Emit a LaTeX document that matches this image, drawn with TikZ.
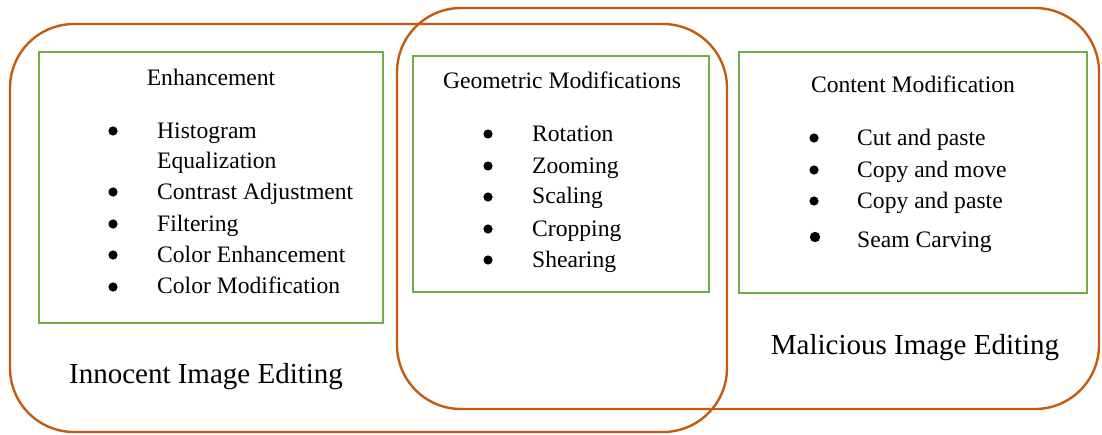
\documentclass[tikz,border=0pt]{standalone}
\usepackage{fontspec}
\setmainfont{Liberation Serif}
\definecolor{oframe}{HTML}{C55A11}
\definecolor{gframe}{HTML}{70AD47}
\begin{document}
\begin{tikzpicture}[x=1pt,y=-1pt,
  outer/.style={draw=oframe,line width=2.4pt,rounded corners=64pt},
  inner/.style={draw=gframe,line width=2pt},
  item/.style={anchor=base west,inner sep=0pt,font=\fontsize{23.6}{28}\selectfont},
  ttl/.style={anchor=base,inner sep=0pt,font=\fontsize{23.6}{28}\selectfont},
  big/.style={anchor=base,inner sep=0pt,font=\fontsize{29}{34}\selectfont},
  dot/.style={fill=black,radius=4.6pt}]
\useasboundingbox (0,0) rectangle (1102,434);
% outer groups
\draw[outer] (10,24) rectangle (727,432);
\draw[outer] (397,8) rectangle (1099,409);
% inner boxes
\draw[inner] (39,52) rectangle (383,323);
\draw[inner] (413,56) rectangle (709,292);
\draw[inner] (739,52) rectangle (1087,293);
% labels
\node[big] (innocent) at (206,383) {Innocent Image Editing};
\node[big] (malicious) at (915,354) {Malicious Image Editing};
% Enhancement
\node[ttl] (enh) at (211,85) {Enhancement};
\node[item] (e1) at (157,138) {Histogram};
\node[item] (e1b) at (157,168) {Equalization};
\node[item] (e2) at (157,199) {Contrast Adjustment};
\node[item] (e3) at (157,231) {Filtering};
\node[item] (e4) at (157,262) {Color Enhancement};
\node[item] (e5) at (157,293) {Color Modification};
\foreach \y in {131,192,224,255,287} \fill[dot] (113,\y) circle;
% Geometric
\node[ttl] (geo) at (562,88) {Geometric Modifications};
\node[item] (g1) at (532,141) {Rotation};
\node[item] (g2) at (532,173) {Zooming};
\node[item] (g3) at (532,203) {Scaling};
\node[item] (g4) at (532,236) {Cropping};
\node[item] (g5) at (532,267) {Shearing};
\foreach \y in {134,166,197,229,260} \fill[dot] (488,\y) circle;
% Content
\node[ttl] (con) at (913,92) {Content Modification};
\node[item] (c1) at (857,145) {Cut and paste};
\node[item] (c2) at (857,177) {Copy and move};
\node[item] (c3) at (857,208) {Copy and paste};
\node[item] (c4) at (857,247) {Seam Carving};
\foreach \y in {138,170,201} \fill[dot] (814,\y) circle;
\fill[dot,radius=5.2pt] (815,237) circle;
\end{tikzpicture}
\end{document}
